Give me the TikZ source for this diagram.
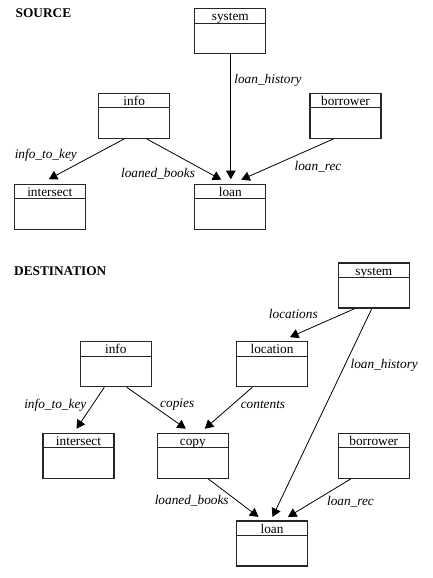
\documentclass[tikz,border=0pt]{standalone}
\usepackage{fontspec}
\setmainfont{Liberation Serif}
\usetikzlibrary{arrows.meta}
\newcommand{\mybf}{\fontsize{13.3}{15}\selectfont}
\tikzset{
  ent/.style={draw=black!85, line width=1.2pt, minimum width=71pt, minimum height=45pt, inner sep=0pt,
    path picture={\draw[line width=0.8pt] ([yshift=-14.3pt]path picture bounding box.north west) -- ([yshift=-14.3pt]path picture bounding box.north east);}},
  hdr/.style={anchor=base, yshift=-12.6pt, inner sep=0pt, font=\mybf},
  rel/.style={font=\mybf\itshape, inner sep=0pt},
  ttl/.style={font=\mybf\bfseries, inner sep=0pt, anchor=west},
  arr/.style={line width=0.8pt, -{Triangle[length=8.5pt,width=9.5pt]}},
}
\begin{document}
\begin{tikzpicture}[x=1pt,y=-1pt]
\useasboundingbox[fill=white] (0,0) rectangle (432,578);
% SOURCE
\node[ttl] (tsrc) at (15.5,13.5) {SOURCE};
\node[ent, label={[hdr]north:system}] (s1) at (230.3,31.2) {};
\node[ent, label={[hdr]north:info}] (i1) at (134.2,115.8) {};
\node[ent, label={[hdr]north:borrower}] (b1) at (345.5,115.8) {};
\node[ent, label={[hdr]north:intersect}] (x1) at (49.8,206.8) {};
\node[ent, label={[hdr]north:loan}] (l1) at (230.3,206.8) {};
\draw[arr] ([xshift=0.5pt]s1.south) -- ([xshift=0.5pt,yshift=4.5pt]l1.north);
\draw[arr] ([xshift=-10pt]i1.south) -- ([xshift=-1pt,yshift=4.5pt]x1.north);
\draw[arr] ([xshift=12.5pt]i1.south) -- ([xshift=-9pt,yshift=4pt]l1.north);
\draw[arr] ([xshift=-12pt]b1.south) -- ([xshift=11pt,yshift=4pt]l1.north);
\node[rel] (r1) at (268,80.7) {loan\_history};
\node[rel] (r2) at (45.8,155.7) {info\_to\_key};
\node[rel] (r3) at (158,173.3) {loaned\_books};
\node[rel] (r4) at (318,166.7) {loan\_rec};
% DESTINATION
\node[ttl] (tdst) at (14,270.7) {DESTINATION};
\node[ent, label={[hdr]north:system}] (s2) at (373.8,285.5) {};
\node[ent, label={[hdr]north:info}] (i2) at (115.8,364.2) {};
\node[ent, label={[hdr]north:location}] (o2) at (272,364.2) {};
\node[ent, label={[hdr]north:intersect}] (x2) at (78.5,455.8) {};
\node[ent, label={[hdr]north:copy}] (c2) at (192.8,455.8) {};
\node[ent, label={[hdr]north:borrower}] (b2) at (373.8,455.8) {};
\node[ent, label={[hdr]north:loan}] (l2) at (272,543.5) {};
\draw[arr] ([xshift=-19pt]s2.south) -- ([xshift=18pt,yshift=4pt]o2.north);
\draw[arr] ([xshift=-2pt]s2.south) -- ([xshift=0.5pt,yshift=3.5pt]l2.north);
\draw[arr] ([xshift=-11.5pt]i2.south) -- ([xshift=-2pt,yshift=4pt]x2.north);
\draw[arr] ([xshift=11pt]i2.south) -- ([xshift=-7pt,yshift=4pt]c2.north);
\draw[arr] ([xshift=-19.7pt]o2.south) -- ([xshift=12pt,yshift=4pt]c2.north);
\draw[arr] ([xshift=15.5pt]c2.south) -- ([xshift=-13.5pt,yshift=3.5pt]l2.north);
\draw[arr] ([xshift=-23pt]b2.south) -- ([xshift=16pt,yshift=3.5pt]l2.north);
\node[rel] (q1) at (293.3,314) {locations};
\node[rel] (q2) at (384.2,365) {loan\_history};
\node[rel] (q3) at (55.3,405) {info\_to\_key};
\node[rel] (q4) at (177.2,405) {copies};
\node[rel] (q5) at (263,405) {contents};
\node[rel] (q6) at (191.7,500.7) {loaned\_books};
\node[rel] (q7) at (350.5,501.7) {loan\_rec};
\end{tikzpicture}
\end{document}
